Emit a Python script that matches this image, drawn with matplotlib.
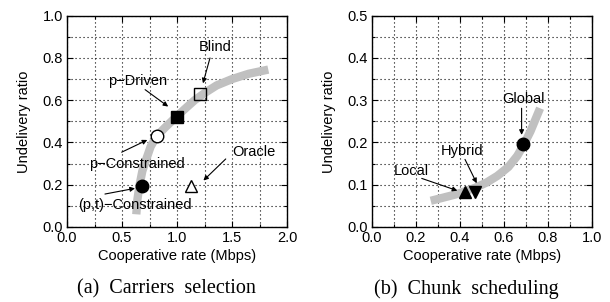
import matplotlib
matplotlib.use("Agg")
import matplotlib.pyplot as plt
from matplotlib.ticker import MultipleLocator, FormatStrFormatter

plt.rcParams['font.family'] = ['Liberation Sans', 'DejaVu Sans']

# ---- data: (a) carriers selection ----
carrier_labels = ['(p,t)\u2212Constrained', 'p\u2212Constrained', 'p\u2212Driven', 'Blind', 'Oracle']
carrier_rate = [0.68, 0.815, 1.0, 1.21, 1.13]
carrier_undeliv = [0.196, 0.431, 0.52, 0.629, 0.194]
curve_a_x = [0.63, 0.64, 0.66, 0.685, 0.72, 0.76, 0.815, 0.89, 0.98, 1.07,
             1.16, 1.26, 1.36, 1.50, 1.65, 1.83]
curve_a_y = [0.06, 0.13, 0.20, 0.265, 0.32, 0.38, 0.43, 0.47, 0.515, 0.558,
             0.60, 0.637, 0.67, 0.70, 0.725, 0.745]

# ---- data: (b) chunk scheduling ----
chunk_labels = ['Local', 'Hybrid', 'Global']
chunk_rate = [0.423, 0.47, 0.688]
chunk_undeliv = [0.082, 0.083, 0.197]
curve_b_x = [0.267, 0.32, 0.38, 0.42, 0.47, 0.52, 0.57, 0.62, 0.66, 0.688, 0.72, 0.764]
curve_b_y = [0.062, 0.069, 0.077, 0.084, 0.093, 0.105, 0.121, 0.142, 0.168, 0.193, 0.226, 0.281]

FS = 10.5
GRAY = '#c0c0c0'

fig = plt.figure(figsize=(6.10, 3.02), dpi=100)
axA = fig.add_axes([67/610, 1-227/302, 220/610, 211.3/302])
axB = fig.add_axes([372/610, 1-227/302, 220/610, 211.3/302])


def style(ax, xmax, xmaj, ymax, ymaj):
    ax.set_xlim(0, xmax)
    ax.set_ylim(0, ymax)
    ax.xaxis.set_major_locator(MultipleLocator(xmaj))
    ax.xaxis.set_minor_locator(MultipleLocator(xmaj/2))
    ax.yaxis.set_major_locator(MultipleLocator(ymaj))
    ax.yaxis.set_minor_locator(MultipleLocator(ymaj/2))
    ax.xaxis.set_major_formatter(FormatStrFormatter('%.1f'))
    ax.yaxis.set_major_formatter(FormatStrFormatter('%.1f'))
    ax.grid(True, which='both', color='black', linestyle=(0, (1, 2.6)), linewidth=0.8)
    ax.tick_params(which='both', direction='in', top=True, right=True, labelsize=FS,
                   width=0.8, pad=3)
    ax.tick_params(which='major', length=4)
    ax.tick_params(which='minor', length=2)
    ax.set_axisbelow(True)
    for s in ax.spines.values():
        s.set_linewidth(1.0)
    ax.set_xlabel('Cooperative rate (Mbps)', fontsize=FS, labelpad=3)
    ax.set_ylabel('Undelivery ratio', fontsize=FS, labelpad=8)


style(axA, 2.0, 0.5, 1.0, 0.2)
style(axB, 1.0, 0.2, 0.5, 0.1)

arrow = dict(arrowstyle='-|>', color='black', lw=0.8, mutation_scale=7,
             shrinkA=0, shrinkB=0)

# ---- panel (a) ----
axA.plot(curve_a_x, curve_a_y, color=GRAY, lw=6, solid_capstyle='butt',
         solid_joinstyle='round', zorder=2)
mk_a = [dict(marker='o', mfc='black', mec='black', ms=9),
        dict(marker='o', mfc='white', mec='black', ms=9),
        dict(marker='s', mfc='black', mec='black', ms=9),
        dict(marker='s', mfc='none', mec='black', ms=9),
        dict(marker='^', mfc='white', mec='black', ms=9)]
for x, y, m in zip(carrier_rate, carrier_undeliv, mk_a):
    axA.plot([x], [y], linestyle='none', mew=1.0, zorder=3, **m)

text_a = [(0.618, 0.104), (0.636, 0.300), (0.645, 0.690), (1.345, 0.853), (1.70, 0.355)]
tail_a = [(0.345, 0.156), (0.497, 0.354), (0.71, 0.65), (1.30, 0.80), (1.443, 0.322)]
head_a = [(0.618, 0.183), (0.73, 0.412), (0.92, 0.57), (1.236, 0.68), (1.24, 0.22)]
for lab, t, a, b in zip(carrier_labels, text_a, tail_a, head_a):
    axA.text(t[0], t[1], lab, fontsize=FS, ha='center', va='center', zorder=4)
    axA.annotate('', xy=b, xytext=a, arrowprops=arrow, zorder=4)

# ---- panel (b) ----
axB.plot(curve_b_x, curve_b_y, color=GRAY, lw=6, solid_capstyle='butt',
         solid_joinstyle='round', zorder=2)
mk_b = [dict(marker='^', mfc='black', mec='black', ms=8),
        dict(marker='v', mfc='black', mec='black', ms=8),
        dict(marker='o', mfc='black', mec='black', ms=9)]
for x, y, m in zip(chunk_rate, chunk_undeliv, mk_b):
    axB.plot([x], [y], linestyle='none', mew=1.0, zorder=3, **m)

text_b = [(0.18, 0.133), (0.408, 0.181), (0.688, 0.3026)]
tail_b = [(0.226, 0.115), (0.4227, 0.160), (0.68, 0.281)]
head_b = [(0.388, 0.086), (0.476, 0.1035), (0.68, 0.218)]
for lab, t, a, b in zip(chunk_labels, text_b, tail_b, head_b):
    axB.text(t[0], t[1], lab, fontsize=FS, ha='center', va='center', zorder=4)
    axB.annotate('', xy=b, xytext=a, arrowprops=arrow, zorder=4)

# captions
fig.text(166/610, 1-289/302, '(a)  Carriers  selection', family='Liberation Serif',
         fontsize=14.5, ha='center', va='center')
fig.text(466/610, 1-289/302, '(b)  Chunk  scheduling', family='Liberation Serif',
         fontsize=14.5, ha='center', va='center')

fig.savefig('out.png', dpi=100)
